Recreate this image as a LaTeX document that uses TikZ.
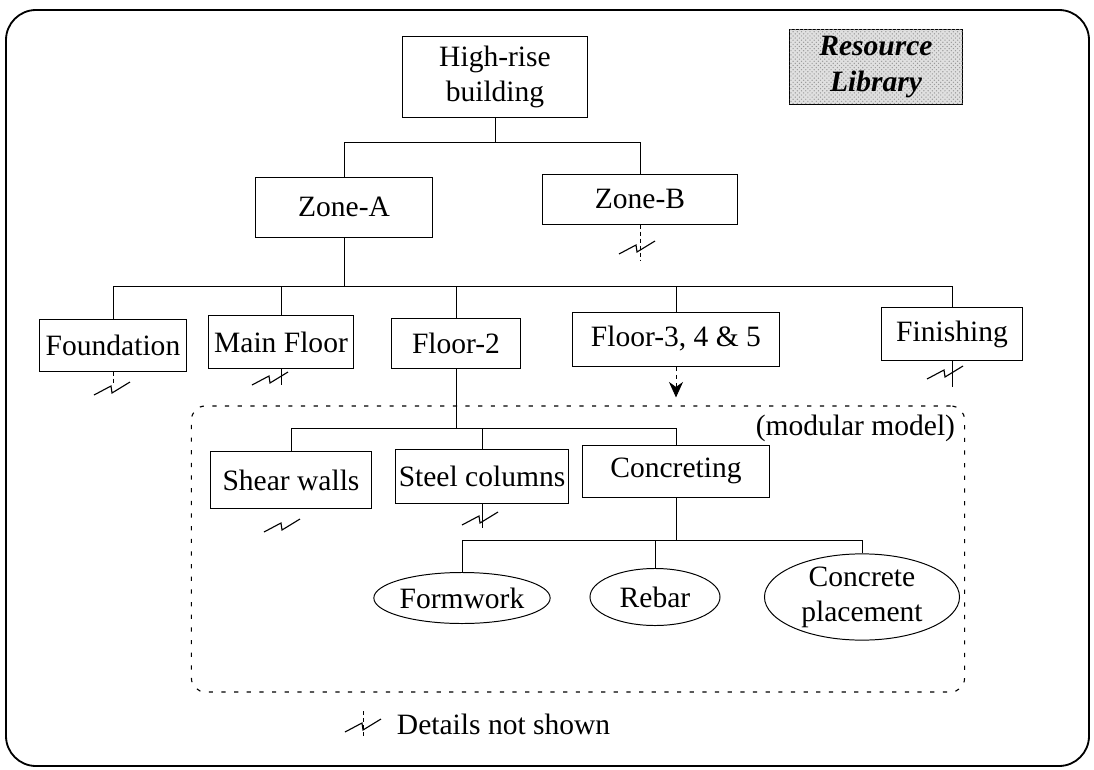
\documentclass[tikz,border=0pt]{standalone}
\usepackage{fontspec}
\setmainfont{Liberation Serif}
\usetikzlibrary{arrows.meta, patterns, shapes.geometric}

\begin{document}
\begin{tikzpicture}[
    x=0.025cm, y=-0.025cm,
    font=\fontsize{21}{25}\selectfont,
    unit/.style={rectangle, draw, line width=0.7pt, inner sep=1pt, align=center},
    task/.style={ellipse, draw, line width=0.7pt, inner sep=0pt, align=center},
    link/.style={line width=0.6pt},
    nodetail/.pic={\draw[line width=0.8pt] (-18,7) -- (-1,-2) -- (0,5) -- (18,-6);}
]
\useasboundingbox (0,0) rectangle (1094,770);

% Frame
\draw[line width=1.3pt, rounded corners=0.75cm] (6,10) rectangle (1089,766);

% Top level
\node[unit, minimum width=4.625cm, minimum height=2.025cm] (hrb) at (495,77) {High-rise\\building};
\node[unit, minimum width=4.325cm, minimum height=1.875cm, fill=black!12,
      postaction={pattern=crosshatch dots, pattern color=black!40},
      font=\fontsize{21}{25}\selectfont\bfseries\itshape] (lib) at (876,67) {Resource\\Library};

% Zones
\node[unit, minimum width=4.4cm, minimum height=1.5cm] (za) at (344,207) {Zone-A};
\node[unit, minimum width=4.85cm, minimum height=1.25cm] (zb) at (640,199) {Zone-B};

% Zone-A parts
\node[unit, minimum width=3.675cm, minimum height=1.3cm] (fnd) at (113,345) {Foundation};
\node[unit, minimum width=3.6cm, minimum height=1.325cm] (mfl) at (281,342) {Main Floor};
\node[unit, minimum width=3.2cm, minimum height=1.25cm] (fl2) at (456,343) {Floor-2};
\node[unit, minimum width=5.15cm, minimum height=1.35cm] (fl3) at (676,339) {Floor-3, 4 \& 5};
\node[unit, minimum width=3.5cm, minimum height=1.325cm] (fin) at (952,334) {Finishing};

% Modular model
\node[draw, dash pattern=on 3pt off 6pt, rounded corners=0.35cm, line width=0.8pt,
      minimum width=19.325cm, minimum height=7.15cm] (mod) at (578,549) {};
\node[anchor=east] (modlbl) at (960,428) {(modular model)};

\node[unit, minimum width=4.025cm, minimum height=1.425cm] (shw) at (291,480) {Shear walls};
\node[unit, minimum width=4.3cm, minimum height=1.35cm] (stc) at (482,476) {Steel columns};
\node[unit, minimum width=4.675cm, minimum height=1.3cm] (cnc) at (676,471) {Concreting};

\node[task, minimum width=3.975cm, minimum height=1.275cm] (frm) at (462,598) {Formwork};
\node[task, minimum width=3.25cm, minimum height=1.425cm] (rbr) at (655,597) {Rebar};
\node[task, minimum width=4.875cm, minimum height=1.725cm] (cpl) at (862,597) {Concrete\\placement};

% Tree connectors
\coordinate (bus1) at (0,142);
\draw[link] (hrb.south) -- (hrb.south |- bus1);
\draw[link] (za.north) |- (zb.north |- bus1) -- (zb.north);

\coordinate (bus2) at (0,286);
\draw[link] (za.south) -- (za.south |- bus2);
\draw[link] (fnd.north) |- (fin.north |- bus2) -- (fin.north);
\foreach \n in {mfl, fl2, fl3}
    \draw[link] (\n.north |- bus2) -- (\n.north);

\coordinate (bus3) at (0,428);
\draw[link] (fl2.south) -- (fl2.south |- bus3);
\draw[link] (shw.north) |- (cnc.north |- bus3) -- (cnc.north);
\draw[link] (stc.north |- bus3) -- (stc.north);

\coordinate (bus4) at (0,540);
\draw[link] (cnc.south) -- (cnc.south |- bus4);
\draw[link] (frm.north) |- (cpl.north |- bus4) -- (cpl.north);
\draw[link] (rbr.north |- bus4) -- (rbr.north);

% Floor-3, 4 & 5 uses the modular model
\draw[link, dashed, -{Stealth[length=11pt, width=10pt]}, shorten >=0.2cm] (fl3.south) -- (fl3.south |- mod.north);

% Details not shown
\draw[link, densely dashed] (zb.south) -- ++(0,36);
\pic at (637,247) {nodetail};
\draw[link, densely dashed] (fnd.south) -- ++(0,12);
\pic at (112,388) {nodetail};
\draw[link] (mfl.south) -- ++(0,16);
\pic at (270,378) {nodetail};
\draw[link] (fin.south) -- ++(0,26);
\pic at (945,372) {nodetail};
\pic at (282,525) {nodetail};
\draw[link] (stc.south) -- ++(0,24);
\pic at (480,518) {nodetail};

% Legend
\draw[link, densely dashed] (363,711) -- (363,738);
\pic at (363,725) {nodetail};
\node[anchor=west] (legend) at (392,724) {Details not shown};

\end{tikzpicture}
\end{document}
